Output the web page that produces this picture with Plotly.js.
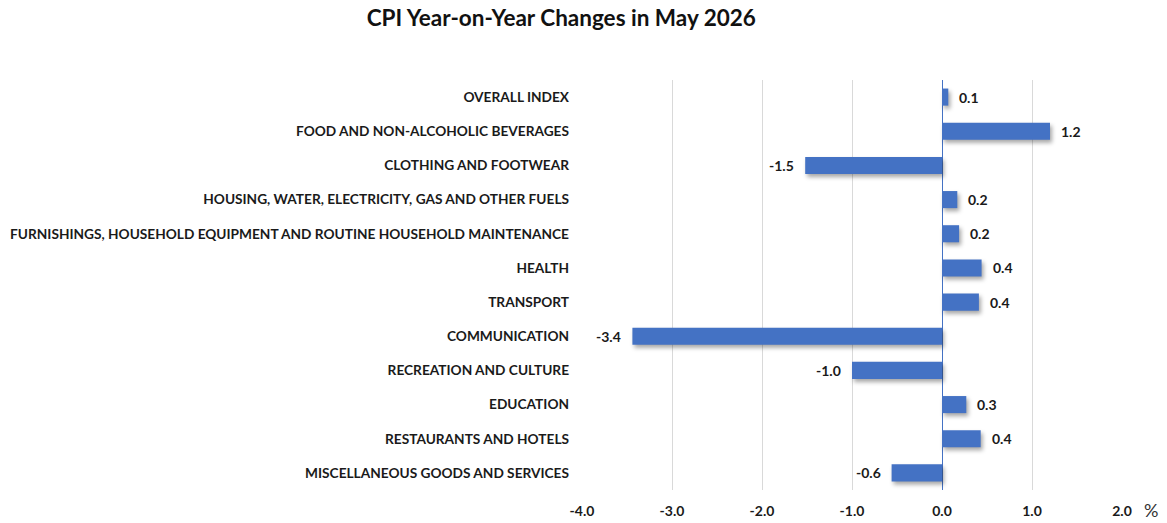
<!DOCTYPE html>
<html>
<head>
<meta charset="utf-8">
<script src="https://cdn.plot.ly/plotly-3.0.1.min.js"></script>
<style>
html,body{margin:0;padding:0;background:#fff;}
#chart{width:1167px;height:523px;}
.trace.bars .point path{filter:drop-shadow(2px 3px 2px rgba(0,0,0,0.35));}
</style>
</head>
<body>
<div id="chart"></div>
<script>
const categories = [
  "OVERALL INDEX",
  "FOOD AND NON-ALCOHOLIC BEVERAGES",
  "CLOTHING AND FOOTWEAR",
  "HOUSING, WATER, ELECTRICITY, GAS AND OTHER FUELS",
  "FURNISHINGS, HOUSEHOLD EQUIPMENT AND ROUTINE HOUSEHOLD MAINTENANCE",
  "HEALTH",
  "TRANSPORT",
  "COMMUNICATION",
  "RECREATION AND CULTURE",
  "EDUCATION",
  "RESTAURANTS AND HOTELS",
  "MISCELLANEOUS GOODS AND SERVICES"
];
const values = [0.07, 1.2, -1.52, 0.17, 0.19, 0.44, 0.41, -3.44, -1.0, 0.27, 0.43, -0.56];
const valueLabels = ["0.1", "1.2", "-1.5", "0.2", "0.2", "0.4", "0.4", "-3.4", "-1.0", "0.3", "0.4", "-0.6"];
const xTicks = [-4, -3, -2, -1, 0, 1, 2];
const xTickLabels = ["-4.0", "-3.0", "-2.0", "-1.0", "0.0", "1.0", "2.0"];

const FONT = "Lato, 'Open Sans', sans-serif";

const annotations = values.map((v, i) => ({
  x: v, y: categories[i], xref: 'x', yref: 'y',
  text: valueLabels[i], showarrow: false,
  xanchor: v >= 0 ? 'left' : 'right',
  xshift: v >= 0 ? 9 : -9,
  font: {family: FONT, size: 14, color: '#1a1a1a', weight: 700}
}));
annotations.push({
  x: 1, xref: 'paper', y: 0, yref: 'paper', yshift: -33,
  text: '%', showarrow: false, xanchor: 'left', xshift: 20,
  font: {family: FONT, size: 18, color: '#333'}
});

const trace = {
  type: 'bar', orientation: 'h',
  y: categories, x: values,
  marker: {color: '#4472C4', line: {width: 0}},
  hoverinfo: 'skip'
};

const layout = {
  width: 1167, height: 523,
  margin: {l: 582, r: 45, t: 80, b: 33},
  paper_bgcolor: '#fff', plot_bgcolor: '#fff',
  title: {
    text: 'CPI Year-on-Year Changes in May 2026',
    x: 0.481, xanchor: 'center', y: 0.965, yanchor: 'middle',
    font: {family: FONT, size: 22.5, color: '#111', weight: 700}
  },
  bargap: 0.5,
  showlegend: false,
  xaxis: {
    range: [-4, 2],
    tickvals: xTicks, ticktext: xTickLabels,
    showgrid: true, gridcolor: '#d9d9d9', gridwidth: 1,
    zeroline: true, zerolinecolor: '#4472C4', zerolinewidth: 1,
    showline: false, ticks: '',
    ticklabelstandoff: 11,
    tickfont: {family: FONT, size: 14, color: '#1a1a1a', weight: 700},
    fixedrange: true
  },
  yaxis: {
    autorange: 'reversed',
    showgrid: false, zeroline: false, showline: false, ticks: '',
    ticklabelstandoff: 12,
    tickfont: {family: FONT, size: 13.7, color: '#1a1a1a', weight: 700},
    fixedrange: true
  },
  annotations: annotations
};

Plotly.newPlot('chart', [trace], layout, {displayModeBar: false, staticPlot: true});
</script>
</body>
</html>
